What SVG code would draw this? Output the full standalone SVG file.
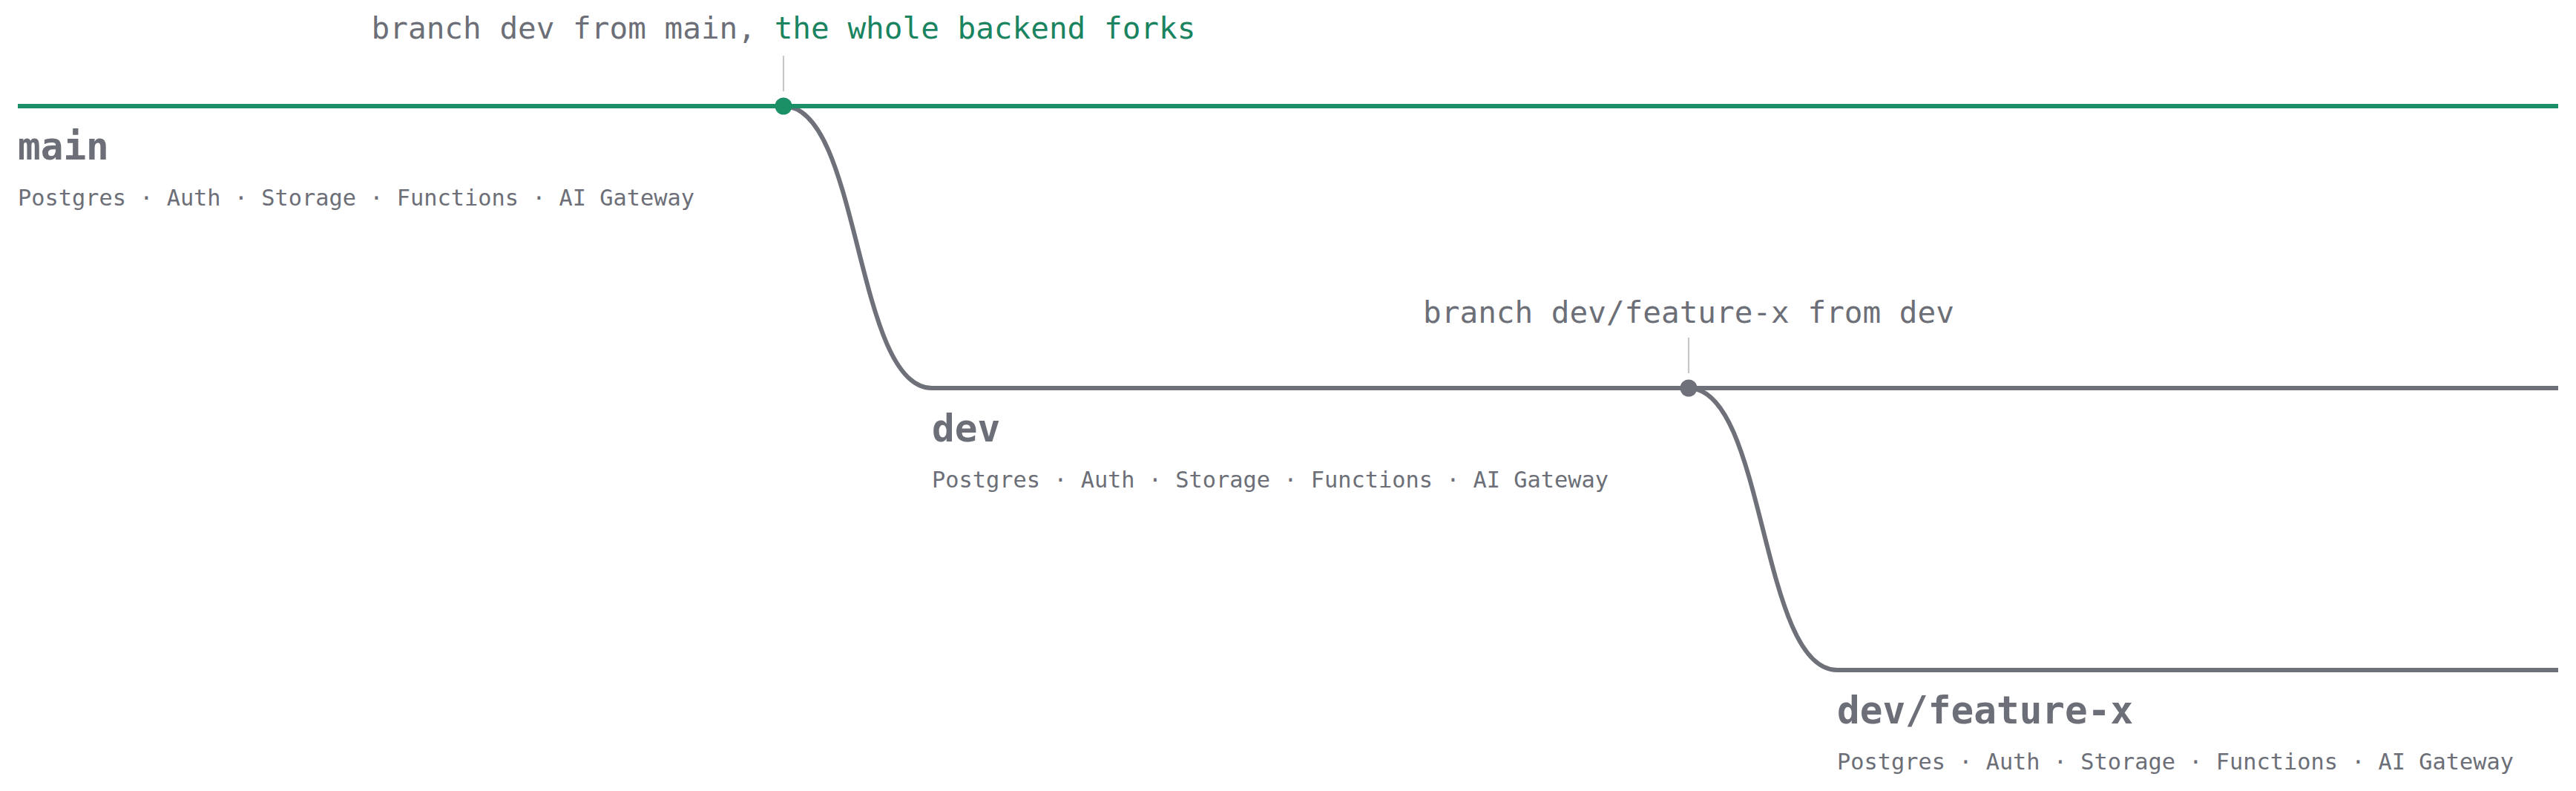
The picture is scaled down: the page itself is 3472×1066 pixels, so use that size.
<svg xmlns="http://www.w3.org/2000/svg" width="3472" height="1066" viewBox="0 0 3472 1066">
  <style>
    .bg { fill: #ffffff; }
    .main-line { fill: none; stroke: #1b8f66; stroke-width: 6; }
    .branch-line { fill: none; stroke: #6e7179; stroke-width: 6; }
    .tick { stroke: #c5c7cb; stroke-width: 2.2; }
    .dot-main { fill: #1b8f66; }
    .dot-gray { fill: #6e7179; }
    .name { font-family: "DejaVu Sans Mono", "Liberation Mono", monospace; font-weight: bold; font-size: 51px; fill: #6c6f77; }
    .svc { font-family: "DejaVu Sans Mono", "Liberation Mono", monospace; font-size: 30.3px; fill: #6c6f77; }
    .note { font-family: "DejaVu Sans Mono", "Liberation Mono", monospace; font-size: 41px; fill: #6c6f77; text-anchor: middle; }
    .accent { fill: #1a8461; }
  </style>
  <rect class="bg" x="0" y="0" width="3472" height="1066"/>

  <g id="connectors">
    <path class="branch-line" d="M1056,143 C1160,143 1152,523 1256,523 H3448"/>
    <path class="branch-line" d="M2276,523 C2380,523 2372,903 2476,903 H3448"/>
    <path class="main-line" d="M24,143 H3448"/>
    <line class="tick" x1="1056" y1="75" x2="1056" y2="123"/>
    <line class="tick" x1="2276" y1="455" x2="2276" y2="503"/>
  </g>

  <g id="fork-main-dev">
    <circle class="dot-main" cx="1056" cy="143" r="11.5"/>
    <text class="note" x="1056" y="52">branch dev from main, <tspan class="accent">the whole backend forks</tspan></text>
  </g>

  <g id="fork-dev-feature">
    <circle class="dot-gray" cx="2276" cy="523" r="11.5"/>
    <text class="note" x="2276" y="435">branch dev/feature-x from dev</text>
  </g>

  <g id="branch-main">
    <text class="name" x="24" y="215">main</text>
    <text class="svc" x="24" y="277">Postgres · Auth · Storage · Functions · AI Gateway</text>
  </g>

  <g id="branch-dev">
    <text class="name" x="1256" y="595">dev</text>
    <text class="svc" x="1256" y="657">Postgres · Auth · Storage · Functions · AI Gateway</text>
  </g>

  <g id="branch-feature-x">
    <text class="name" x="2476" y="975">dev/feature-x</text>
    <text class="svc" x="2476" y="1037">Postgres · Auth · Storage · Functions · AI Gateway</text>
  </g>
</svg>
